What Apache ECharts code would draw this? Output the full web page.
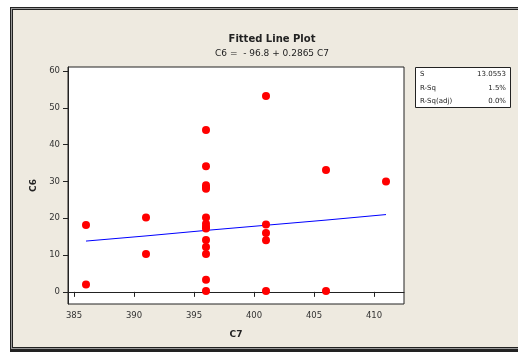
<!DOCTYPE html>
<html>
<head>
<meta charset="utf-8">
<script src="https://cdn.jsdelivr.net/npm/echarts@6/dist/echarts.min.js"></script>
<style>
  html, body { margin: 0; padding: 0; background: #fff; }
  #chart { width: 518px; height: 352px; }
</style>
</head>
<body>
<div id="chart"></div>
<script>
// observed data (C7, C6)
const obsX = [386, 386, 391, 391,
  396, 396, 396, 396, 396, 396, 396, 396, 396, 396, 396, 396, 396, 396,
  401, 401, 401, 401, 401, 406, 406, 411];
const obsY = [18.2, 2.0, 20.2, 10.3,
  44.0, 34.1, 29.0, 28.4, 28.0, 20.2, 18.5, 17.7, 17.2, 14.1, 12.2, 10.3, 3.3, 0.2,
  53.2, 18.3, 16.0, 14.0, 0.2, 33.1, 0.2, 30.0];

// fitted line read at each C7 level
const fitX = [386, 391, 396, 401, 406, 411];
const fitY = [13.8, 15.2, 16.7, 18.1, 19.5, 21.0];

const xTicks = [385, 390, 395, 400, 405, 410];
const yTicks = [0, 10, 20, 30, 40, 50, 60];

const statNames = ['S', 'R-Sq', 'R-Sq(adj)'];
const statValues = ['13.0553', '1.5%', '0.0%'];

const bg = '#eeeae0';
const ink = '#222';
const font = 'DejaVu Sans';

const chart = echarts.init(document.getElementById('chart'));

const statText = statNames.map((name, i) => ([
  {
    type: 'text', left: 420, top: 71 + i * 13.5, z: 10,
    style: { text: name, fontSize: 7, fontFamily: font, fill: ink }
  },
  {
    type: 'text', right: 12, top: 71 + i * 13.5, z: 10,
    style: { text: statValues[i], fontSize: 7, fontFamily: font, fill: ink, align: 'right' }
  }
])).flat();

chart.setOption({
  animation: false,
  backgroundColor: '#fff',
  textStyle: { fontFamily: font },
  graphic: [
    // window frame
    { type: 'rect', shape: { x: 10, y: 7, width: 600, height: 345 }, style: { fill: ink }, z: -10 },
    { type: 'rect', shape: { x: 11, y: 8, width: 600, height: 341 }, style: { fill: '#999' }, z: -10 },
    { type: 'rect', shape: { x: 12, y: 9, width: 600, height: 339 }, style: { fill: ink }, z: -10 },
    { type: 'rect', shape: { x: 13, y: 10, width: 600, height: 337 }, style: { fill: bg }, z: -10 },
    // stats box
    {
      type: 'rect', shape: { x: 415.5, y: 67.5, width: 95, height: 40 },
      style: { fill: '#fff', stroke: ink, lineWidth: 1 }, z: 5
    },
    ...statText
  ],
  title: {
    text: 'Fitted Line Plot',
    subtext: 'C6 =  - 96.8 + 0.2865 C7',
    left: 267,
    top: 29,
    textAlign: 'center',
    itemGap: 5,
    textStyle: { fontSize: 10, fontWeight: 'bold', color: ink, fontFamily: font },
    subtextStyle: { fontSize: 9, color: ink, fontFamily: font }
  },
  grid: {
    left: 68, top: 67, width: 336, height: 237,
    show: true, backgroundColor: '#fff', borderColor: ink, borderWidth: 1
  },
  xAxis: {
    type: 'value',
    min: 384.5,
    max: 412.5,
    name: 'C7',
    nameLocation: 'middle',
    nameGap: 26,
    nameTextStyle: { fontSize: 9, fontWeight: 'bold', color: ink },
    axisLine: { lineStyle: { color: ink } },
    axisTick: { show: true, length: 5, customValues: xTicks, lineStyle: { color: ink } },
    axisLabel: { customValues: xTicks, fontSize: 8.5, color: '#333', margin: 7 },
    splitLine: { show: false }
  },
  yAxis: {
    type: 'value',
    min: -3.3,
    max: 61.1,
    name: 'C6',
    nameLocation: 'middle',
    nameGap: 28,
    nameRotate: 90,
    nameTextStyle: { fontSize: 9, fontWeight: 'bold', color: ink },
    axisLine: { show: true, lineStyle: { color: ink } },
    axisTick: { show: true, length: 5, customValues: yTicks, lineStyle: { color: ink } },
    axisLabel: { customValues: yTicks, fontSize: 8.5, color: '#333', margin: 8 },
    splitLine: { show: false }
  },
  series: [
    {
      name: 'Fit',
      type: 'line',
      data: fitX.map((x, i) => [x, fitY[i]]),
      showSymbol: false,
      lineStyle: { color: '#0000ff', width: 1 },
      z: 2
    },
    {
      name: 'C6',
      type: 'scatter',
      data: obsX.map((x, i) => [x, obsY[i]]),
      symbolSize: 8,
      itemStyle: { color: '#ff0000', opacity: 1 },
      z: 3
    }
  ]
});
</script>
</body>
</html>
